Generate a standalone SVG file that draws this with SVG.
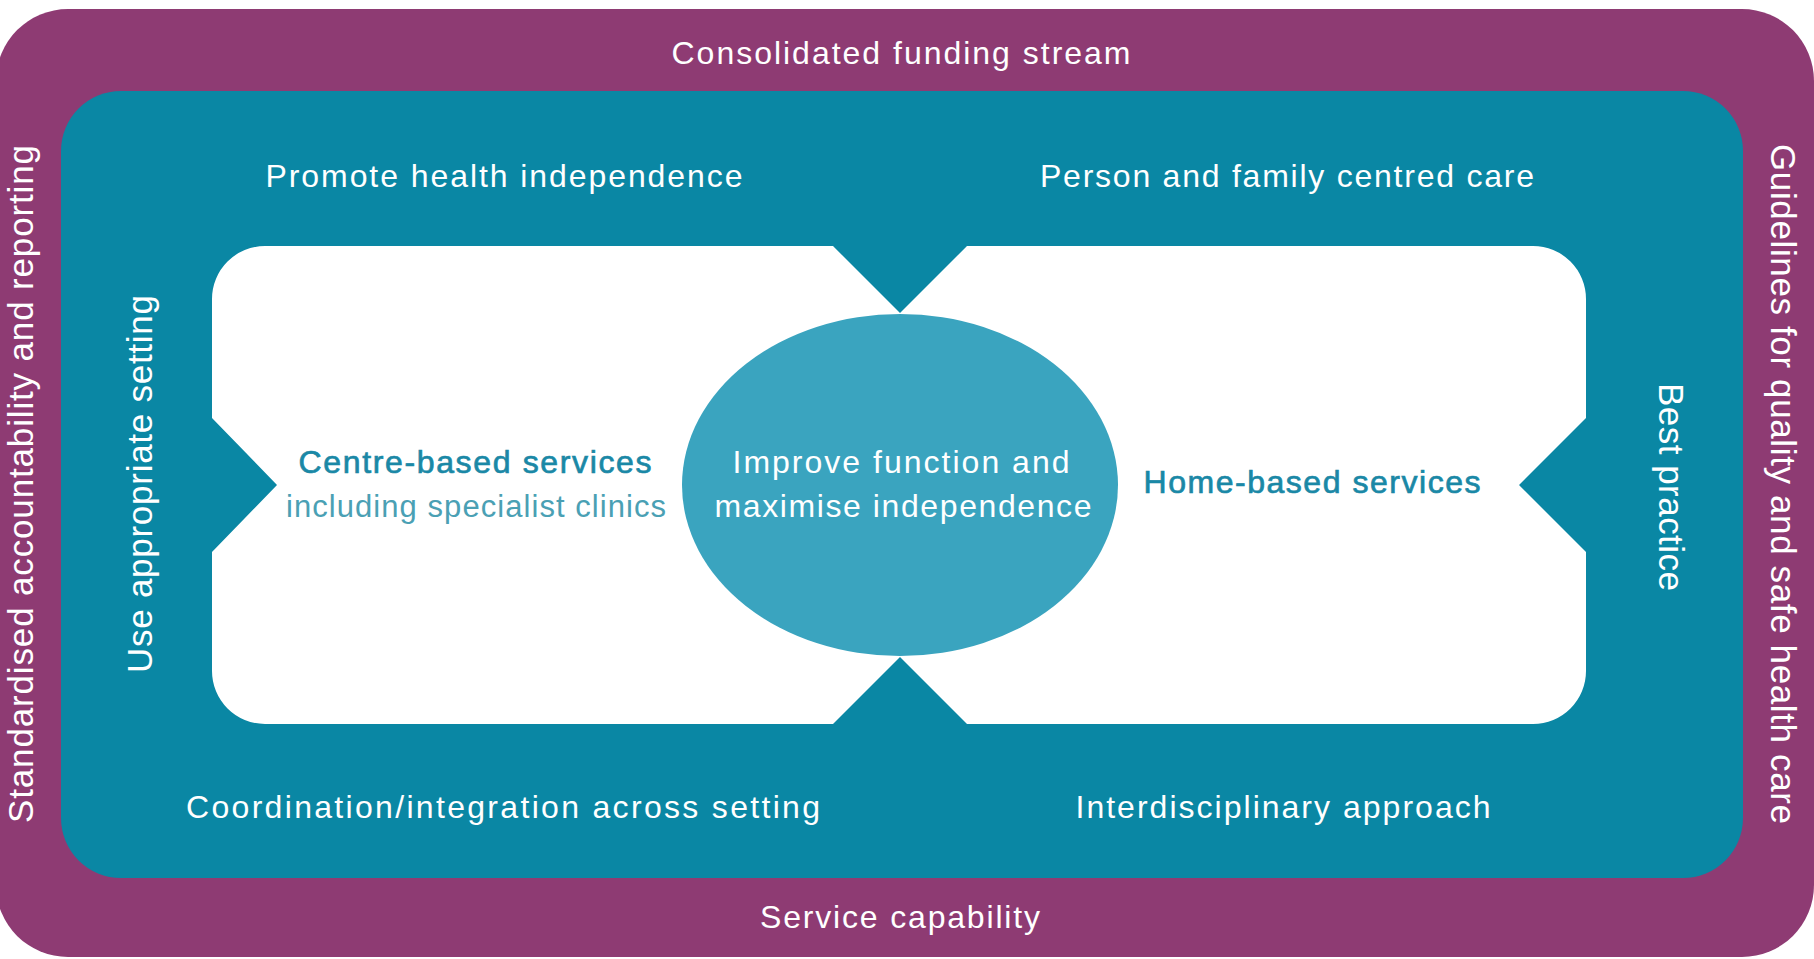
<svg xmlns="http://www.w3.org/2000/svg" width="1814" height="959" viewBox="0 0 1814 959">
  <style>
    .lbl { font-family: "Liberation Sans", Arial, sans-serif; fill: #ffffff; text-anchor: middle; }
    .h { font-size: 32px; }
    .v { font-size: 35px; }
    .svc { font-family: "Liberation Sans", Arial, sans-serif; font-size: 32px; fill: #1a88a6; stroke: #1a88a6; stroke-width: 0.7px; text-anchor: middle; }
    .sub { font-family: "Liberation Sans", Arial, sans-serif; font-size: 31px; fill: #4aa0b4; text-anchor: middle; }
  </style>
  <rect width="1814" height="959" fill="#ffffff"/>

  <g id="outer-frame">
    <rect x="-4" y="9" width="1818" height="948" rx="72" ry="72" fill="#8e3b73"/>
    <text class="lbl h" x="901" y="64" textLength="459" lengthAdjust="spacing">Consolidated funding stream</text>
    <text class="lbl h" x="900" y="928" textLength="280" lengthAdjust="spacing">Service capability</text>
    <text class="lbl v" transform="translate(33 484) rotate(-90)" textLength="678" lengthAdjust="spacing">Standardised accountability and reporting</text>
    <text class="lbl v" transform="translate(1771 484) rotate(90)" textLength="680" lengthAdjust="spacing">Guidelines for quality and safe health care</text>
  </g>

  <g id="principles-frame">
    <rect x="61" y="91" width="1682" height="787" rx="60" ry="60" fill="#0a87a4"/>
    <text class="lbl h" x="504" y="187" textLength="477" lengthAdjust="spacing">Promote health independence</text>
    <text class="lbl h" x="1287" y="187" textLength="494" lengthAdjust="spacing">Person and family centred care</text>
    <text class="lbl h" x="503" y="818" textLength="634" lengthAdjust="spacing">Coordination/integration across setting</text>
    <text class="lbl h" x="1283" y="818" textLength="415" lengthAdjust="spacing">Interdisciplinary approach</text>
    <text class="lbl v" transform="translate(152 484) rotate(-90)" textLength="378" lengthAdjust="spacing">Use appropriate setting</text>
    <text class="lbl v" transform="translate(1659 487) rotate(90)" textLength="208" lengthAdjust="spacing">Best practice</text>
  </g>

  <g id="service-settings">
    <path d="M 265 246 L 833 246 L 900 313 L 967 246 L 1533 246 A 53 53 0 0 1 1586 299 L 1586 418 L 1519 485 L 1586 552 L 1586 671 A 53 53 0 0 1 1533 724 L 967 724 L 900 657 L 833 724 L 265 724 A 53 53 0 0 1 212 671 L 212 552 L 277 485 L 212 418 L 212 299 A 53 53 0 0 1 265 246 Z" fill="#ffffff"/>
  </g>

  <g id="centre-based">
    <text class="svc" x="475" y="473" textLength="353" lengthAdjust="spacing">Centre-based services</text>
    <text class="sub" x="476" y="517" textLength="380" lengthAdjust="spacing">including specialist clinics</text>
  </g>

  <g id="home-based">
    <text class="svc" x="1312" y="493" textLength="337" lengthAdjust="spacing">Home-based services</text>
  </g>

  <g id="goal">
    <ellipse cx="900" cy="485" rx="218" ry="171" fill="#3aa4bf"/>
    <text class="lbl h" x="901" y="473" textLength="337" lengthAdjust="spacing">Improve function and</text>
    <text class="lbl h" x="903" y="517" textLength="377" lengthAdjust="spacing">maximise independence</text>
  </g>

  <g id="connectors"></g>
</svg>
